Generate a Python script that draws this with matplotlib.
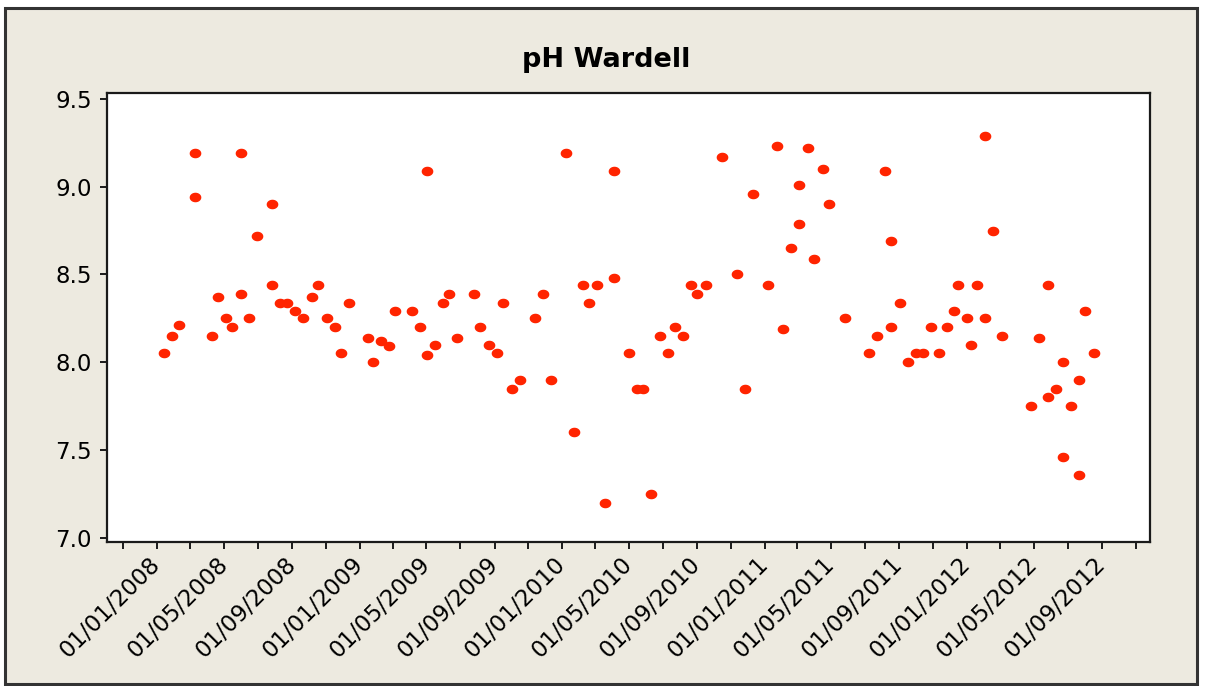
import numpy as np
import matplotlib
matplotlib.use("Agg")
import matplotlib.pyplot as plt
import matplotlib.dates as mdates
from matplotlib.patches import Rectangle

# sampling dates and pH readings
dates = [
    "2008-01-13", "2008-01-28", "2008-02-09", "2008-03-10", "2008-03-10",
    "2008-04-09", "2008-04-20", "2008-05-05", "2008-05-16", "2008-05-31",
    "2008-05-31", "2008-06-15", "2008-06-30", "2008-07-27", "2008-07-27",
    "2008-08-10", "2008-08-22", "2008-09-06", "2008-09-21", "2008-10-07",
    "2008-10-18", "2008-11-02", "2008-11-17", "2008-11-28", "2008-12-13",
    "2009-01-16", "2009-01-24", "2009-02-08", "2009-02-22", "2009-03-06",
    "2009-04-05", "2009-04-20", "2009-05-02", "2009-05-02", "2009-05-16",
    "2009-05-31", "2009-06-11", "2009-06-26", "2009-07-26", "2009-08-06",
    "2009-08-21", "2009-09-06", "2009-09-17", "2009-10-02", "2009-10-17",
    "2009-11-12", "2009-11-27", "2009-12-12", "2010-01-08", "2010-01-23",
    "2010-02-07", "2010-02-18", "2010-03-05", "2010-03-20", "2010-04-04",
    "2010-04-04", "2010-05-01", "2010-05-16", "2010-05-27", "2010-06-11",
    "2010-06-26", "2010-07-11", "2010-07-23", "2010-08-07", "2010-08-22",
    "2010-09-02", "2010-09-17", "2010-10-17", "2010-11-12", "2010-11-27",
    "2010-12-12", "2011-01-08", "2011-01-23", "2011-02-03", "2011-02-18",
    "2011-03-05", "2011-03-05", "2011-03-20", "2011-04-01", "2011-04-16",
    "2011-04-28", "2011-05-27", "2011-07-08", "2011-07-23", "2011-08-07",
    "2011-08-18", "2011-08-18", "2011-09-02", "2011-09-17", "2011-10-02",
    "2011-10-14", "2011-10-28", "2011-11-12", "2011-11-27", "2011-12-09",
    "2011-12-16", "2012-01-01", "2012-01-08", "2012-01-19", "2012-02-03",
    "2012-02-03", "2012-02-18", "2012-03-04", "2012-04-26", "2012-05-11",
    "2012-05-27", "2012-05-27", "2012-06-10", "2012-06-22", "2012-06-22",
    "2012-07-07", "2012-07-22", "2012-07-22", "2012-08-02", "2012-08-17",
]
ph = [
    8.05, 8.15, 8.21, 9.19, 8.94,
    8.15, 8.37, 8.25, 8.20, 8.39,
    9.19, 8.25, 8.72, 8.90, 8.44,
    8.34, 8.34, 8.29, 8.25, 8.37,
    8.44, 8.25, 8.20, 8.05, 8.34,
    8.14, 8.00, 8.12, 8.09, 8.29,
    8.29, 8.20, 9.09, 8.04, 8.10,
    8.34, 8.39, 8.14, 8.39, 8.20,
    8.10, 8.05, 8.34, 7.85, 7.90,
    8.25, 8.39, 7.90, 9.19, 7.60,
    8.44, 8.34, 8.44, 7.20, 9.09,
    8.48, 8.05, 7.85, 7.85, 7.25,
    8.15, 8.05, 8.20, 8.15, 8.44,
    8.39, 8.44, 9.17, 8.50, 7.85,
    8.96, 8.44, 9.23, 8.19, 8.65,
    9.01, 8.79, 9.22, 8.59, 9.10,
    8.90, 8.25, 8.05, 8.15, 9.09,
    8.69, 8.20, 8.34, 8.00, 8.05,
    8.05, 8.20, 8.05, 8.20, 8.29,
    8.44, 8.25, 8.10, 8.44, 9.29,
    8.25, 8.75, 8.15, 7.75, 8.14,
    7.80, 8.44, 7.85, 8.00, 7.46,
    7.75, 7.90, 7.36, 8.29, 8.05,
]
yticks = [7.0, 7.5, 8.0, 8.5, 9.0, 9.5]

bg = "#EDEAE0"
x = np.array(dates, dtype="datetime64[D]")

fig = plt.figure(figsize=(12.06, 6.86), dpi=100, facecolor="white")
fig.patches.append(Rectangle((5 / 1206, 1 - 684 / 686), 1192 / 1206, 676 / 686,
                             transform=fig.transFigure, facecolor=bg,
                             edgecolor="#333333", linewidth=2.2, zorder=-1))

ax = fig.add_axes([107 / 1206, 1 - 542 / 686, 1043 / 1206, 448.7 / 686])
ax.set_facecolor("white")

# slightly flattened dot, like the original symbols
t = np.linspace(0, 2 * np.pi, 40)
ell = list(zip(np.cos(t), 0.82 * np.sin(t)))
ax.plot(x, ph, linestyle="none", marker=ell, markersize=8.4,
        color="#FF2400", markeredgewidth=0)

ax.set_ylim(6.9755, 9.532)
ax.set_yticks(yticks)
ax.set_yticklabels([f"{v:.1f}" for v in yticks])
ax.set_xlim(np.datetime64("2007-10-02T14:00"), np.datetime64("2012-11-26T14:00"))

ax.xaxis.set_major_locator(mdates.MonthLocator(bymonth=[1, 5, 9]))
ax.xaxis.set_minor_locator(mdates.MonthLocator(bymonth=[3, 7, 11]))
ax.xaxis.set_major_formatter(mdates.DateFormatter("%d/%m/%Y"))

for s in ax.spines.values():
    s.set_linewidth(1.6)
    s.set_color("#1a1a1a")

ax.tick_params(axis="both", which="both", direction="out", length=5,
               width=1.4, color="#1a1a1a", labelsize=16.5, labelcolor="black")
ax.tick_params(axis="y", pad=6)
ax.tick_params(axis="x", which="both", pad=8.5)
for lab in ax.get_xticklabels():
    lab.set_rotation(45)
    lab.set_ha("right")
    lab.set_va("center")
    lab.set_rotation_mode("anchor")

fig.text(0.5025, 1 - 66.7 / 686, "pH Wardell", ha="center", va="baseline",
         fontsize=19.5, fontweight="bold")

fig.savefig("out.png", dpi=100, facecolor=fig.get_facecolor())
